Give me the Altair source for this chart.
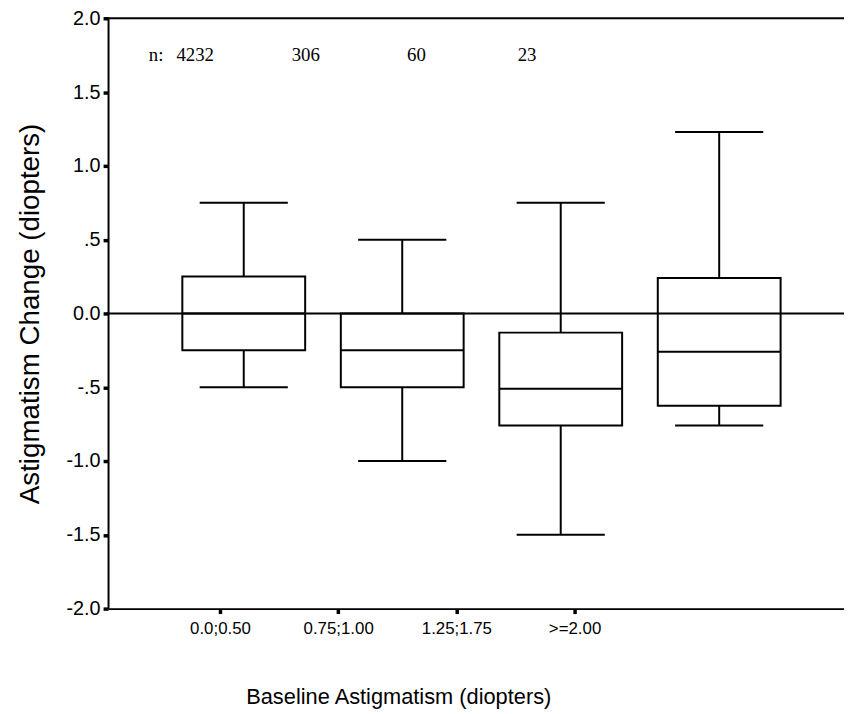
import altair as alt
import pandas as pd

groups = ["0.0;0.50", "0.75;1.00", "1.25;1.75", ">=2.00"]
whisker_low = [-0.50, -1.00, -1.50, -0.76]
q1 = [-0.25, -0.50, -0.76, -0.625]
median = [0.0, -0.25, -0.51, -0.26]
q3 = [0.25, 0.0, -0.13, 0.24]
whisker_high = [0.75, 0.50, 0.75, 1.23]
n_counts = [4232, 306, 60, 23]
y_ticks = [-2.0, -1.5, -1.0, -0.5, 0.0, 0.5, 1.0, 1.5, 2.0]

df = pd.DataFrame({
    "group": groups,
    "idx": list(range(len(groups))),
    "low": whisker_low,
    "q1": q1,
    "median": median,
    "q3": q3,
    "high": whisker_high,
    "n": n_counts,
})

Y_TITLE = "Astigmatism Change (diopters)"
y_scale = alt.Scale(domain=[-2, 2], nice=False, zero=False)
y_axis = alt.Axis(
    values=y_ticks,
    labelExpr="(datum.value < 0 ? '-' : '') + (abs(datum.value) == 0.5 ? '.5' : format(abs(datum.value), '.1f'))",
    labelFont="Liberation Sans", labelFontSize=20, labelPadding=3,
    tickSize=5, tickWidth=3.5, tickColor="black",
    domainColor="black", domainWidth=2, grid=False,
    titleFont="Liberation Sans", titleFontSize=28, titleFontWeight="normal",
    titlePadding=22, titleColor="black", labelColor="black",
)

def Y(field):
    return alt.Y(field, type="quantitative", scale=y_scale, axis=y_axis, title=Y_TITLE)

box_scale = alt.Scale(domain=groups, paddingInner=0.225, paddingOuter=0.4344, align=0.5396, round=False)
box_x = alt.X("group:N", sort=groups, scale=box_scale, axis=None)

base = alt.Chart(df)

box = base.mark_bar(fill="white", stroke="black", strokeWidth=2, opacity=1).encode(
    x=box_x, y=Y("q1"), y2="q3"
)
wl = base.mark_rule(color="black", strokeWidth=2).encode(x=box_x, y=Y("low"), y2="q1")
wh = base.mark_rule(color="black", strokeWidth=2).encode(x=box_x, y=Y("q3"), y2="high")
cap_l = base.mark_tick(color="black", thickness=2, size=89, opacity=1).encode(x=box_x, y=Y("low"))
cap_h = base.mark_tick(color="black", thickness=2, size=89, opacity=1).encode(x=box_x, y=Y("high"))
med = base.mark_tick(color="black", thickness=2, size=124, opacity=1).encode(x=box_x, y=Y("median"))

boxes = alt.layer(box, wl, wh, cap_l, cap_h, med)

label_array = "[" + ",".join("'" + g + "'" for g in groups) + "]"
tick_scale = alt.Scale(domain=[-0.947, 5.2795], nice=False, zero=False)
axis_layer = base.mark_point(opacity=0).encode(
    x=alt.X("idx:Q", scale=tick_scale,
            title="Baseline Astigmatism (diopters)",
            axis=alt.Axis(orient="bottom", values=list(range(len(groups))),
                          labelExpr=label_array + "[datum.value]",
                          labelAngle=0,
                          labelFont="Liberation Sans", labelFontSize=17,
                          labelPadding=7, tickSize=5, tickWidth=3.5, tickColor="black",
                          domainColor="black", domainWidth=2, grid=False,
                          labelColor="black", titleColor="black",
                          titleFont="Liberation Sans", titleFontSize=22,
                          titleFontWeight="normal", titleBaseline="alphabetic",
                          titleX=293, titleY=96)),
)

n_scale = alt.Scale(domain=[-0.788, 5.8655], nice=False, zero=False)
n_x = alt.X("idx:Q", scale=n_scale, axis=None)
n_text = base.mark_text(font="Liberation Serif", fontSize=19, color="black").encode(
    x=n_x, y=alt.datum(1.75), text="n:Q"
)
n_label = base.transform_filter(alt.datum.idx == 0).mark_text(
    font="Liberation Serif", fontSize=19, color="black", text="n:", dx=-39.5
).encode(x=n_x, y=alt.datum(1.75))
n_layer = alt.layer(n_text, n_label)

zero_line = alt.Chart(pd.DataFrame({"v": [0.0]})).mark_rule(color="black", strokeWidth=2).encode(
    y=alt.Y("v:Q", scale=y_scale, axis=y_axis, title=Y_TITLE)
)
top_line = alt.Chart(pd.DataFrame({"v": [2.0]})).mark_rule(color="black", strokeWidth=2).encode(
    y=alt.Y("v:Q", scale=y_scale, axis=y_axis, title=Y_TITLE)
)

chart = alt.layer(boxes, zero_line, top_line, axis_layer, n_layer).resolve_scale(
    x="independent"
).properties(
    width=743, height=596,
    autosize=alt.AutoSizeParams(type="none"),
    padding={"left": 101, "top": 7, "right": 0, "bottom": 101},
).configure_view(stroke=None).configure(background="white")

chart.save("out.html", embed_options={"renderer": "svg", "actions": False})
